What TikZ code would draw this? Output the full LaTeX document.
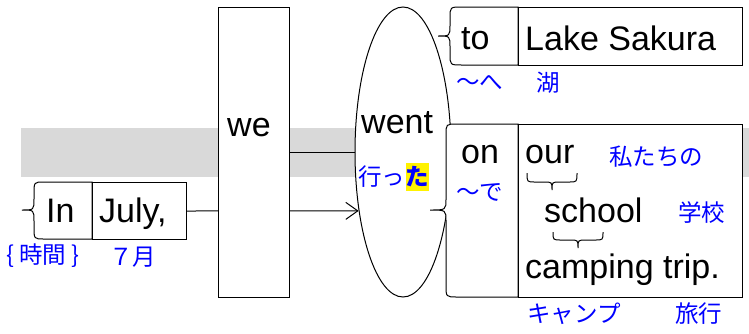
\documentclass[tikz,border=0pt]{standalone}
\usepackage{fontspec}
\setmainfont{Liberation Sans}
\newfontfamily\jpfont{Noto Sans CJK JP}
\usetikzlibrary{arrows.meta, positioning, shapes.geometric}

\begin{document}
\begin{tikzpicture}
  [x=1pt, y=-1pt,
   every node/.style={inner sep=0pt},
   box/.style={draw, fill=white, line width=1pt},
   en/.style={font=\fontsize{34}{37}\selectfont, anchor=base west},
   ja/.style={font=\jpfont\fontsize{23.5}{25}\selectfont, text=blue, anchor=west},
   edge/.style={line width=1pt},
   ubrace/.style={line width=1pt}]

  \useasboundingbox (0,0) rectangle (749,333);
  \fill[black!15] (21,128) rectangle (749,177);

  % In July,
  \path[box] (92,182) -- (44,182) .. controls (34,182) .. (34,194) -- (34,199)
     .. controls (34,210) .. (22,210) .. controls (34,210) .. (34,221) -- (34,227)
     .. controls (34,239) .. (44,239) -- (92,239) -- cycle;
  \node[box, minimum width=94pt, minimum height=57pt, anchor=north west] (july) at (92,182) {};
  \node[en] (in) at (46,222) {In};
  \node[en] (julyw) at (99,222) {July,};
  \node[ja] (jikan) at (6,256) {\{\hspace{5pt}時間\hspace{5pt}\}};
  \node[ja] (nanagatsu) at (109,257) {７月};

  % went
  \node[box, ellipse, minimum width=96pt, minimum height=290pt] (went) at (403,152) {};
  \node[en] (wentw) at (361,133) {went};
  \node[ja] (itt) at (358,177) {行っ};
  \node[ja, font=\jpfont\bfseries\fontsize{23.5}{25}\selectfont, fill=yellow, inner ysep=4pt, right=0pt of itt] (ta) {た};

  \draw[edge, -{Straight Barb[length=12pt, width=17pt]}] (july.east) -- (went.233);

  % we
  \node[box, minimum width=71pt, minimum height=290pt] (we) at (253.5,152) {};
  \node[en] (wew) at (227,136) {we};
  \draw[edge] (we) -- (went);

  % to Lake Sakura
  \path[box] (518,7) -- (462,7) .. controls (450,7) .. (450,18) -- (450,25)
     .. controls (450,36) .. (438,36) .. controls (450,36) .. (450,47) -- (450,54)
     .. controls (450,65) .. (462,65) -- (518,65) -- cycle;
  \node[box, minimum width=224pt, minimum height=58pt, anchor=north west] (lake) at (518,7) {};
  \node[en] (tow) at (461,49) {to};
  \node[en] (lakew) at (525,50) {Lake Sakura};
  \node[ja] (he) at (456,83) {～へ};
  \node[ja] (mizuumi) at (536,83) {湖};

  % on our school camping trip.
  \path[box] (518,124) -- (457,124) .. controls (446,124) .. (446,135) -- (446,199)
     .. controls (446,210) .. (430,210) .. controls (446,210) .. (446,221) -- (446,285)
     .. controls (446,297) .. (457,297) -- (518,297) -- cycle;
  \node[box, minimum width=224pt, minimum height=173pt, anchor=north west] (trip) at (518,124) {};
  \node[en] (onw) at (461,163) {on};
  \node[ja] (de) at (456,192) {～で};
  \node[en] (our) at (525,163) {our};
  \node[ja] (watashi) at (609,157) {私たちの};
  \node[en] (school) at (544,222) {school};
  \node[ja] (gakkou) at (678,213) {学校};
  \node[en] (camping) at (525,278) {camping trip.};
  \node[ja] (camp) at (527,314) {キャンプ};
  \node[ja] (ryokou) at (675,314) {旅行};

  \draw[ubrace] (527,173) .. controls (527,182) .. (535,182) -- (544,182)
     .. controls (552,182) .. (552,190) .. controls (552,182) .. (560,182)
     -- (569,182) .. controls (577,182) .. (577,173);
  \draw[ubrace] (553,232) .. controls (553,240) .. (561,240) -- (570,240)
     .. controls (578,240) .. (578,248) .. controls (578,240) .. (586,240)
     -- (595,240) .. controls (603,240) .. (603,232);

\end{tikzpicture}
\end{document}
